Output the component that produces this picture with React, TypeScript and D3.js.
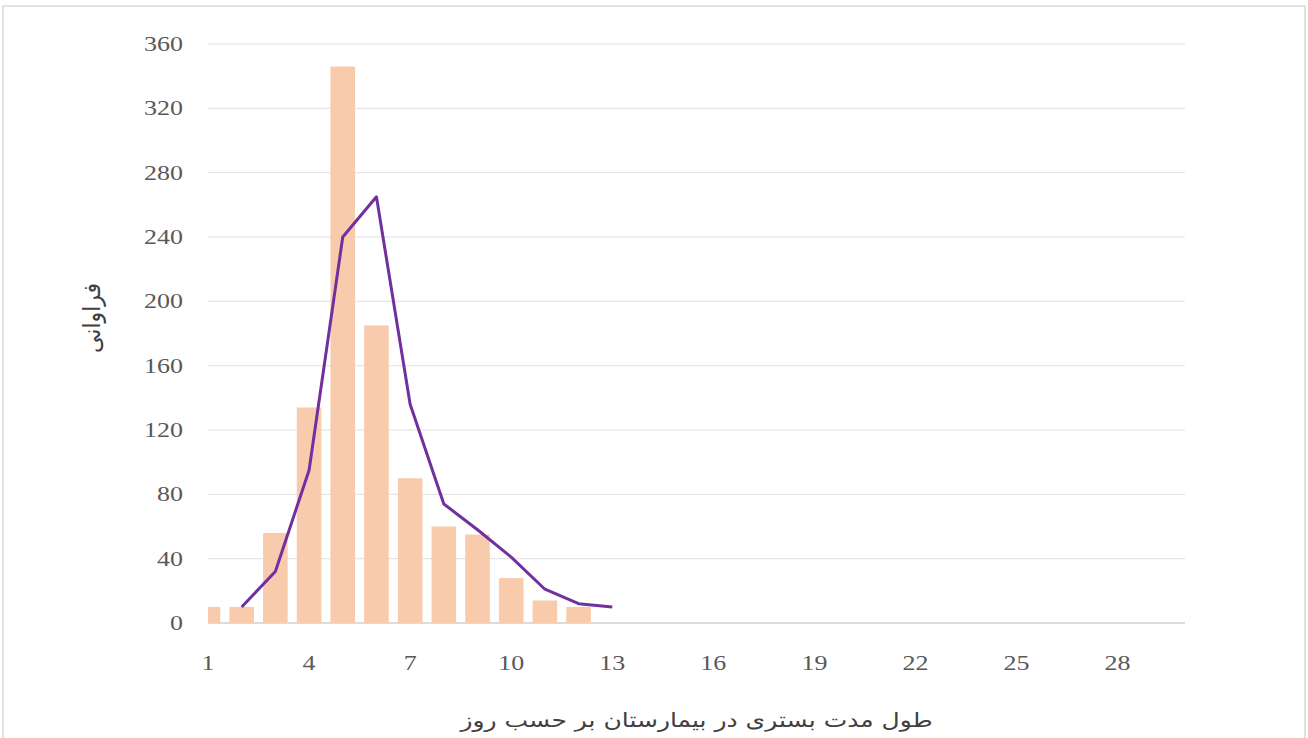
import React from "react";
import * as d3 from "d3";

const days: number[] = [1, 2, 3, 4, 5, 6, 7, 8, 9, 10, 11, 12];
const frequency: number[] = [10, 10, 56, 134, 346, 185, 90, 60, 55, 28, 14, 10];
const trendDays: number[] = [2, 3, 4, 5, 6, 7, 8, 9, 10, 11, 12, 13];
const trendValues: number[] = [10, 32, 95, 240, 265, 136, 74, 58, 41, 21, 12, 10];
const xTicks: number[] = [1, 4, 7, 10, 13, 16, 19, 22, 25, 28];
const yTicks: number[] = [0, 40, 80, 120, 160, 200, 240, 280, 320, 360];
const xTitle = "طول مدت بستری در بیمارستان بر حسب روز";
const yTitle = "فراوانی";

const W = 1308;
const H = 738;
const left = 208;
const right = 1185;
const top = 44;
const bottom = 623;

export default function App() {
  const x = d3.scaleLinear().domain([1, 30]).range([left, right]);
  const y = d3.scaleLinear().domain([0, 360]).range([bottom, top]);
  const unit = x(2) - x(1);
  const barW = unit * 0.73;
  const line = d3
    .line<number>()
    .x((_, i) => x(trendDays[i]))
    .y((d) => y(d));

  const tickFont = "'Liberation Serif', serif";
  const faFont = "'DejaVu Sans', sans-serif";
  const sx = 1.3;

  return (
    <svg
      width={W}
      height={H}
      style={{ position: "absolute", left: 0, top: 0, background: "#fff" }}
    >
      <defs>
        <clipPath id="plot">
          <rect x={left} y={0} width={right - left} height={bottom + 1} />
        </clipPath>
      </defs>
      <rect x={3} y={6} width={1302} height={740} fill="none" stroke="#d9d9d9" strokeWidth={1.5} />
      {yTicks.map((t) => (
        <line
          key={"g" + t}
          x1={left}
          x2={right}
          y1={y(t)}
          y2={y(t)}
          stroke={t === 0 ? "#d0d0d0" : "#e0e0e0"}
          strokeWidth={t === 0 ? 1.5 : 1}
        />
      ))}
      <g clipPath="url(#plot)">
        {days.map((d, i) => (
          <rect
            key={"b" + d}
            x={x(d) - barW / 2}
            y={y(frequency[i])}
            width={barW}
            height={y(0) - y(frequency[i])}
            fill="#F8CBAD"
          />
        ))}
      </g>
      <path
        d={line(trendValues) || ""}
        fill="none"
        stroke="#7030A0"
        strokeWidth={3}
        strokeLinejoin="round"
      />
      {yTicks.map((t) => (
        <g key={"y" + t} transform={`translate(183,${y(t)}) scale(${sx},1)`}>
          <text
            dy="0.35em"
            textAnchor="end"
            fontFamily={tickFont}
            fontSize={20}
            fill="#595959"
          >
            {t}
          </text>
        </g>
      ))}
      {xTicks.map((t) => (
        <g key={"x" + t} transform={`translate(${x(t)},663) scale(${sx},1)`}>
          <text
            dy="0.35em"
            textAnchor="middle"
            fontFamily={tickFont}
            fontSize={20}
            fill="#595959"
          >
            {t}
          </text>
        </g>
      ))}
      <g transform={`translate(${(left + right) / 2},720) scale(1.25,1)`}>
        <text
          dy="0.35em"
          textAnchor="middle"
          fontFamily={faFont}
          fontSize={20}
          fill="#404040"
          direction="rtl"
        >
          {xTitle}
        </text>
      </g>
      <g transform={`translate(92,318) rotate(-90) scale(1.1,1.2)`}>
        <text
          dy="0.35em"
          textAnchor="middle"
          fontFamily={faFont}
          fontSize={20}
          fill="#404040"
          direction="rtl"
        >
          {yTitle}
        </text>
      </g>
    </svg>
  );
}
